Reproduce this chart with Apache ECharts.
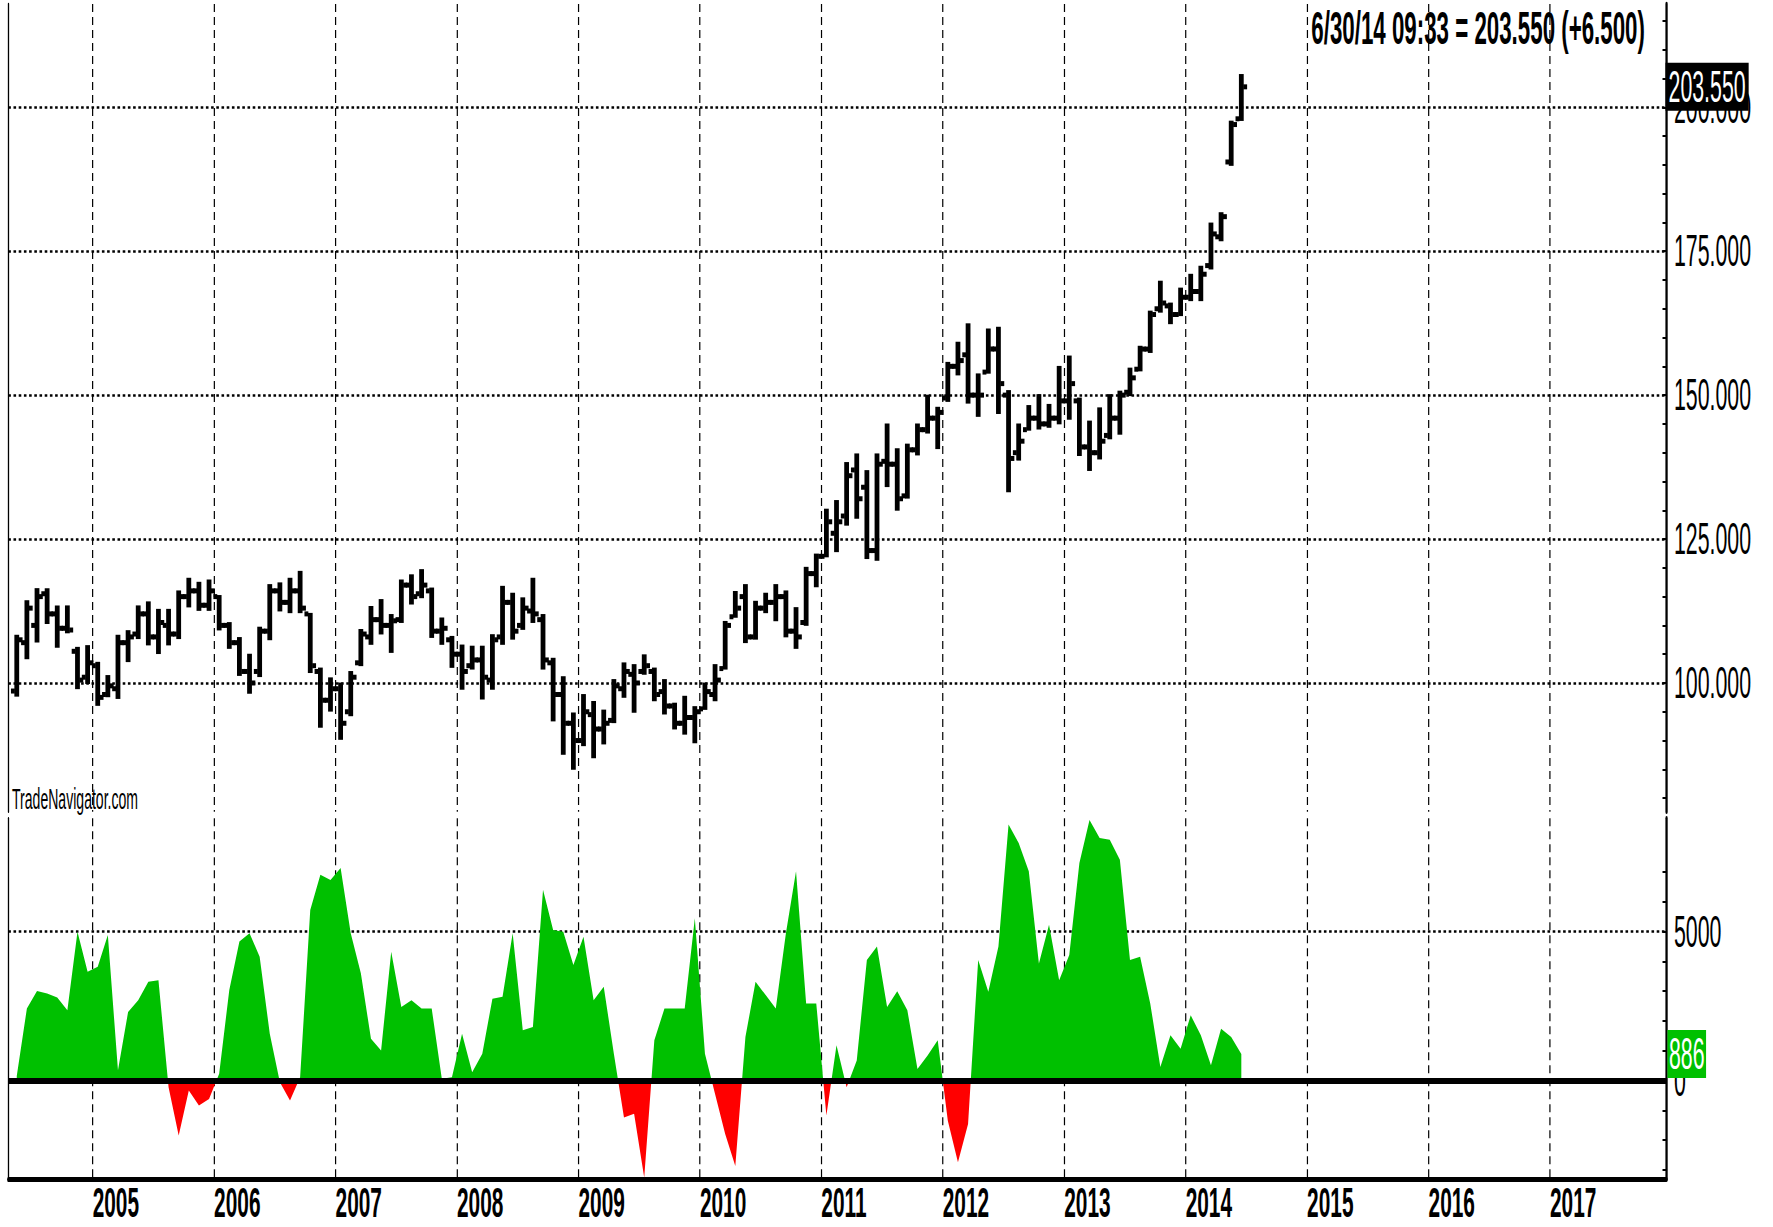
<!DOCTYPE html>
<html><head><meta charset="utf-8">
<script src="https://cdn.jsdelivr.net/npm/echarts@6/dist/echarts.min.js"></script>
<style>
html,body{margin:0;padding:0;overflow:hidden;background:#fff;}
#wrap{width:1773px;height:1227px;overflow:hidden;position:relative;}
#c{width:3656px;height:1227px;transform:scaleX(0.484956);transform-origin:0 0;position:absolute;left:0;top:0;}
</style></head><body><div id="wrap"><div id="c"></div></div>
<script>
// ---- data (monthly bars) ----
const months = [
 '2004-05','2004-06','2004-07','2004-08','2004-09','2004-10','2004-11','2004-12',
 '2005-01','2005-02','2005-03','2005-04','2005-05','2005-06','2005-07','2005-08','2005-09','2005-10','2005-11','2005-12',
 '2006-01','2006-02','2006-03','2006-04','2006-05','2006-06','2006-07','2006-08','2006-09','2006-10','2006-11','2006-12',
 '2007-01','2007-02','2007-03','2007-04','2007-05','2007-06','2007-07','2007-08','2007-09','2007-10','2007-11','2007-12',
 '2008-01','2008-02','2008-03','2008-04','2008-05','2008-06','2008-07','2008-08','2008-09','2008-10','2008-11','2008-12',
 '2009-01','2009-02','2009-03','2009-04','2009-05','2009-06','2009-07','2009-08','2009-09','2009-10','2009-11','2009-12',
 '2010-01','2010-02','2010-03','2010-04','2010-05','2010-06','2010-07','2010-08','2010-09','2010-10','2010-11','2010-12',
 '2011-01','2011-02','2011-03','2011-04','2011-05','2011-06','2011-07','2011-08','2011-09','2011-10','2011-11','2011-12',
 '2012-01','2012-02','2012-03','2012-04','2012-05','2012-06','2012-07','2012-08','2012-09','2012-10','2012-11','2012-12',
 '2013-01','2013-02','2013-03','2013-04','2013-05','2013-06','2013-07','2013-08','2013-09','2013-10','2013-11','2013-12',
 '2014-01','2014-02','2014-03','2014-04','2014-05','2014-06'
];
const open = [
 98.6,107,110,115.5,112,109.5,105.5,101,
 103,98,99,107,108.5,112,108,110,108.5,115,116,113.5,
 115,110,107,102,102,109,116,114,116,112,102,97,
 99,95,103.5,108,111,110,111,117,115.5,116,109,107.5,
 105,103,104,100.5,108,114,110,112.5,111,103.5,98,93,
 90,94.5,92,93.5,99,101.5,102,102,98.5,96,93,94,
 95.5,98,102.5,111.5,115,108,113,114,115,109,110.5,119,
 122,126,129,137,134,123,138.5,138,132.5,140.5,144,146,
 149.5,155,157,150,154,158,150,140,144,146,145,146,
 149,149,141,140,143,146,150.5,154.5,158,165,165.5,164,
 167,168,172.5,177.5,190.5,198
];
const high = [
 108.2,114.2,116.3,116.3,113.3,113.3,106.1,106.4,
 103.5,101.2,108.2,109,113.3,114,112.7,112.7,115.9,118.1,117.4,117.8,
 115.1,110.4,107.8,104.9,109.6,117,117.3,118.1,119.3,112,102.5,100.8,
 99.9,101.9,109.2,113.2,114.4,111.8,117.8,118.7,119.6,116.4,111.2,108,
 106.5,106.3,106.3,108.3,116.7,115.5,114.7,118.1,111.8,104.2,101,94.7,
 97.9,96.7,95.2,100.5,103.4,103.1,104.8,102.5,100.5,96.4,97.6,95.8,
 99.9,103.1,110.6,115.8,117,114.1,115.5,117,115.9,113,120,122.3,
 130.1,131.6,138.2,139.7,136.8,139.7,144.9,140.6,141.4,144.9,149.9,147.8,
 155.6,159.1,162.3,153.6,161.4,161.7,150.7,144.9,148.1,150,148.3,154.9,
 156.7,149.4,145.4,147.7,150,150.6,154.6,158.4,164.5,169.7,165.9,168.5,
 170.9,172.3,179.8,181.6,197.5,205.6
];
const low = [
 97.8,104.3,107.2,110.4,106.3,108.8,99.1,100,
 96.2,97.7,97.4,103.8,107.8,106.7,105.2,106.7,107.8,113.3,112.7,112.7,
 109.3,106.1,101.4,98.3,101.2,107.6,112.6,112.3,112.3,101.9,92.4,95.2,
 90.3,94.4,103.1,106.8,108.6,105.4,110.6,113.8,114.9,108,106.8,102.8,
 99,102.5,97.3,99,106.8,107.7,109.4,110.6,102.5,93.5,87.7,85.1,
 89.2,87.1,89.5,93.2,97.6,95,101.6,97,94.7,92.1,91.2,89.7,
 95.5,97,102.5,111.5,107.1,107.7,112.3,110.9,108.1,106.1,110.1,116.8,
 122,122.9,127.5,128.7,121.7,121.4,134.2,130.1,132.2,139.7,143.5,140.8,
 149,153.6,148.7,146.4,153.9,146.9,133.3,138.8,144,144.2,144.5,145.1,
 145.9,139.6,137,139,142.5,143.3,150,154.3,157.5,164.5,162.5,163.9,
 166.5,166.5,172,176.9,190,197.8
];
const close = [
 107.5,113,115,112,109.5,109.2,100.5,103.5,
 97.5,99.5,107,108,112,108,110.5,108.5,115,116,113.5,116,
 110,107,102,100,109,116,114,116,113,103,97,99,
 93,101,108.5,111,110,110.8,117,115,117,109,109.5,105,
 102,104,101,107.5,114,109,113,112,104,98,93,90,
 95,92,93,99.5,102,100,103,98,96,93,94,95,
 98.5,100.5,110,113,108,113,114,115,109,108,119,122,
 128,128,136,132,123,138,138,132,140.5,144,146,147,
 155,156,150,150,158,152,139,142,146,145,146,149,
 152,141,140,142,146,150,153,158,164,166,164,167,
 168,171,178,181,197,203.55
];
const indicator = [
 150,2420,3010,2920,2790,2360,5000,3650,
 3820,4890,340,2300,2700,3320,3370,-230,-1850,-340,-840,-620,
 230,3040,4670,4950,4160,1570,-60,-670,110,5730,6910,6740,
 7140,4950,3600,1400,1010,4330,2470,2700,2420,2420,60,110,
 1570,280,900,2750,2810,4950,1690,1800,6410,5060,5000,3880,
 4830,2700,3150,900,-1240,-1120,-3260,1350,2420,2420,2420,5450,
 900,-450,-1800,-2870,1460,3320,2870,2420,4950,7030,2590,2590,
 -1180,1180,-230,670,4050,4500,2470,3000,2360,390,840,1350,
 -1350,-2750,-1460,4050,2980,4500,8600,7980,7030,3930,5230,3370,
 4220,7310,8750,8150,8090,7420,4050,4160,2590,450,1520,1070,
 2190,1520,510,1740,1460,886
];
const yearTicks = [2005,2006,2007,2008,2009,2010,2011,2012,2013,2014,2015,2016,2017];
const priceLabels = [100,125,150,175,200];
const priceMinorTicks = [80,85,90,95,100,105,110,115,120,125,130,135,140,145,150,155,160,165,170,175,180,185,190,195,200,205,210,215];
const indLabels = [0,5000];
const indMinorTicks = [-3000,-2000,-1000,0,1000,2000,3000,4000,5000,6000,7000];
const headerText = '6/30/14 09:33 = 203.550 (+6.500)';
const watermark = 'TradeNavigator.com';
const lastPrice = 203.55;
const lastInd = 886;

// ---- layout helpers (chart is drawn wide, then squeezed horizontally) ----
const W = 3656, S = 1773 / W;
const px = v => v / S;              // image px (horizontal) -> chart units
const FONT = '"Liberation Sans", Arial, sans-serif';
const monthX = s => { const p = s.split('-'); return +p[0] + (+p[1] - 0.5) / 12; };

const X_MIN = 2004.3053, X_MAX = 2017.9594;
const P_MIN = 77.64, P_MAX = 217.94;
const I_MIN = -3310, I_MAX = 8810;
const GL = px(8.3), GR = W - px(1666.5);

const ohlc = months.map((m, i) => [monthX(m), open[i], high[i], low[i], close[i]]);
const ind = months.map((m, i) => [monthX(m), indicator[i]]);

const BW = px(4.8), TW = px(3.4), TH = 5;
const vDash = { color: '#000', width: px(1.2), type: [8, 5] };
const hDot = { color: '#000', width: 2.5, type: [px(2.6), px(2.6)] };
const lbl = { fontSize: 44, lineHeight: 40, color: '#000', fontFamily: FONT };
const hidden = { color: 'rgba(0,0,0,0)', width: 0.1, type: 'solid' };

const chart = echarts.init(document.getElementById('c'), null, { renderer: 'svg', width: W, height: 1227 });
chart.setOption({
  animation: false,
  backgroundColor: '#fff',
  textStyle: { fontFamily: FONT },
  title: [
    { text: headerText, right: px(1773 - 1645), top: 5, padding: 0,
      textStyle: { fontSize: 46, lineHeight: 46, fontWeight: 'bold', color: '#000', fontFamily: FONT } },
    { text: watermark, left: px(12), top: 784, padding: 0,
      textStyle: { fontSize: 29, lineHeight: 29, fontWeight: 'normal', color: '#000', fontFamily: FONT } }
  ],
  grid: [
    { left: GL, right: GR, top: 4, height: 807.7 },
    { left: GL, right: GR, top: 818.3, height: 360.7 }
  ],
  xAxis: [
    { type: 'value', gridIndex: 0, min: X_MIN, max: X_MAX,
      axisLine: { show: false }, axisTick: { show: false, customValues: yearTicks },
      axisLabel: { show: false, customValues: yearTicks },
      splitLine: { show: true, lineStyle: vDash } },
    { type: 'value', gridIndex: 1, min: X_MIN, max: X_MAX,
      axisLine: { show: true, onZero: false, lineStyle: { color: '#000', width: 5 } },
      axisTick: { show: false, customValues: yearTicks },
      axisLabel: Object.assign({}, lbl, { show: true, customValues: yearTicks, formatter: v => String(Math.round(v)),
        align: 'left', margin: 4, fontSize: 43, lineHeight: 38, fontWeight: 'bold' }),
      splitLine: { show: true, lineStyle: vDash } }
  ],
  yAxis: [
    { type: 'value', gridIndex: 0, position: 'right', min: P_MIN, max: P_MAX,
      axisLine: { show: true, onZero: false, lineStyle: { color: '#000', width: px(2.3) } },
      axisTick: { show: true, inside: true, length: px(4), customValues: priceMinorTicks, lineStyle: { color: '#000', width: 2 } },
      axisLabel: { show: false }, splitLine: { show: false } },
    { type: 'value', gridIndex: 0, position: 'right', min: P_MIN, max: P_MAX,
      axisLine: { show: false }, axisTick: { show: false, customValues: priceLabels },
      axisLabel: Object.assign({ show: true, customValues: priceLabels, formatter: v => v.toFixed(3), margin: px(7.5) }, lbl),
      splitLine: { show: true, lineStyle: hDot } },
    { type: 'value', gridIndex: 0, position: 'left', min: P_MIN, max: P_MAX,
      axisLine: { show: true, onZero: false, lineStyle: { color: '#000', width: px(1.3) } },
      axisTick: { show: false }, axisLabel: { show: false }, splitLine: { show: false } },
    { type: 'value', gridIndex: 1, position: 'right', min: I_MIN, max: I_MAX,
      axisLine: { show: true, onZero: false, lineStyle: { color: '#000', width: px(2.3) } },
      axisTick: { show: true, inside: true, length: px(4), customValues: indMinorTicks, lineStyle: { color: '#000', width: 2 } },
      axisLabel: { show: false }, splitLine: { show: false } },
    { type: 'value', gridIndex: 1, position: 'right', min: I_MIN, max: I_MAX,
      axisLine: { show: false }, axisTick: { show: false, customValues: indLabels },
      axisLabel: Object.assign({ show: true, customValues: indLabels, formatter: v => String(v), margin: px(7.5) }, lbl),
      splitLine: { show: true, lineStyle: hDot } },
    { type: 'value', gridIndex: 1, position: 'left', min: I_MIN, max: I_MAX,
      axisLine: { show: true, onZero: false, lineStyle: { color: '#000', width: px(1.3) } },
      axisTick: { show: false }, axisLabel: { show: false }, splitLine: { show: false } }
  ],
  visualMap: [{
    type: 'piecewise', show: false, seriesIndex: 1, dimension: 1,
    pieces: [{ gte: -1000000, lt: 0, color: '#ff0000' }, { gte: 0, lte: 1000000, color: '#00c000' }],
    outOfRange: { color: '#00c000' }
  }],
  series: [
    {
      type: 'custom', name: 'Price', xAxisIndex: 0, yAxisIndex: 0, z: 5,
      encode: { x: 0, y: [1, 2, 3, 4] },
      data: ohlc,
      renderItem: function (params, api) {
        const x = api.value(0);
        const pO = api.coord([x, api.value(1)]);
        const pH = api.coord([x, api.value(2)]);
        const pL = api.coord([x, api.value(3)]);
        const pC = api.coord([x, api.value(4)]);
        return {
          type: 'group',
          children: [
            { type: 'rect', shape: { x: pH[0] - BW / 2, y: pH[1] - 1, width: BW, height: Math.max(pL[1] - pH[1] + 2, 3) }, style: { fill: '#000' } },
            { type: 'rect', shape: { x: pO[0] - BW / 2 - TW, y: pO[1] - TH / 2, width: TW + 1, height: TH }, style: { fill: '#000' } },
            { type: 'rect', shape: { x: pC[0] + BW / 2 - 1, y: pC[1] - TH / 2, width: TW + 1, height: TH }, style: { fill: '#000' } }
          ]
        };
      },
      markLine: {
        silent: true, symbol: ['none', 'none'], animation: false,
        lineStyle: hidden,
        data: [{
          yAxis: lastPrice, lineStyle: hidden,
          label: Object.assign({}, lbl, { show: true, position: 'end', distance: -2, formatter: lastPrice.toFixed(3),
            backgroundColor: '#000', padding: [4, px(3), 4, px(3)], color: '#fff', lineHeight: 40, opacity: 1 })
        }]
      }
    },
    {
      type: 'line', name: 'Indicator', xAxisIndex: 1, yAxisIndex: 3, z: 3,
      data: ind, showSymbol: false, symbol: 'none',
      lineStyle: { width: 0, opacity: 0 },
      areaStyle: { opacity: 1 },
      markLine: {
        silent: true, symbol: ['none', 'none'], animation: false,
        data: [
          { yAxis: 0, lineStyle: { color: '#000', width: 6, type: 'solid', opacity: 1 }, label: { show: false } },
          { yAxis: lastInd, lineStyle: hidden,
            label: Object.assign({}, lbl, { show: true, position: 'end', distance: 2, formatter: String(lastInd),
              backgroundColor: '#00c000', padding: [4, px(1.5), 4, px(1.5)], color: '#fff', lineHeight: 40, opacity: 1 }) }
        ]
      }
    }
  ]
});
</script></body></html>
